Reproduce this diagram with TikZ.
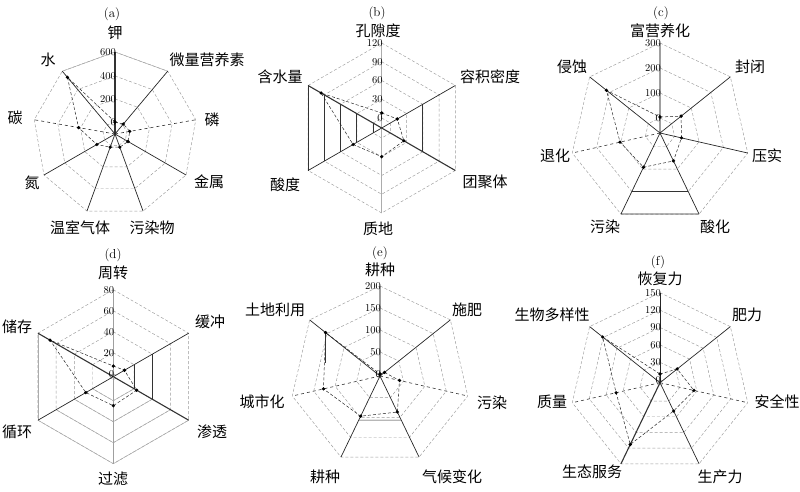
\documentclass[tikz,border=0pt]{standalone}
\usepackage{fontspec}
\newfontfamily\cjk{Noto Sans CJK SC}
\begin{document}
\begin{tikzpicture}[
        x=1pt, y=1pt,
        ringline/.style={gray!80, densely dashed, line width=0.45pt},
        softline/.style={gray!65, line width=0.5pt},
        axisline/.style={black!85, line width=0.7pt},
        boldaxis/.style={black!80, line width=1.1pt},
        grayaxis/.style={gray!75, line width=1.1pt},
        dashaxis/.style={black!80, dashed, line width=0.6pt},
        edgeline/.style={black!80, line width=0.7pt},
        dataline/.style={black!85, densely dashed, line width=0.5pt},
        axislabel/.style={font=\cjk\fontsize{15}{17}\selectfont, inner sep=0pt},
        ticklabel/.style={font=\fontsize{10.5}{12}\selectfont, anchor=east, inner sep=0.5pt, xshift=1.5pt},
        panellabel/.style={font=\fontsize{13}{15}\selectfont, inner sep=0pt}
    ]
    \useasboundingbox (0,0) rectangle (800,491);

    % (a) nine axes
    \begin{scope}[shift={(115,357)}]
      \foreach \r in {12,35,58,82}
        \draw[ringline] (90:\r) \foreach \i in {1,...,8}{ -- ({90-40*\i}:\r)} -- cycle;
      \draw[softline] (130:82) -- (90:82) -- (50:82);
      \foreach \i/\s in {0/boldaxis,1/axisline,2/dashaxis,3/axisline,4/axisline,
                         5/axisline,6/axisline,7/dashaxis,8/axisline}
        \draw[\s] (0,0) -- ({90-40*\i}:82);
      \draw[dataline] (90:12) \foreach \i/\r in {1/13,2/15,3/15,4/14,5/14,6/21,7/37,8/74}{ -- ({90-40*\i}:\r)} -- cycle;
      \foreach \i/\r in {0/12,1/13,2/15,3/15,4/14,5/14,6/21,7/37,8/74}
        \fill ({90-40*\i}:\r) circle (1.8);
      \foreach \v/\r in {0/12,200/35,400/58,600/82}
        \node[ticklabel] (ka\v) at (90:\r) {\v};
    \end{scope}
    \node[panellabel] (ta) at (112,477) {(a)};
    \node[axislabel] (a1) at (115,458) {钾};
    \node[axislabel] (a2) at (207,431) {微量营养素};
    \node[axislabel] (a3) at (212,371) {磷};
    \node[axislabel] (a4) at (209,309) {金属};
    \node[axislabel] (a5) at (152,263) {污染物};
    \node[axislabel] (a6) at (80,263) {温室气体};
    \node[axislabel] (a7) at (32,308) {氮};
    \node[axislabel] (a8) at (15,373) {碳};
    \node[axislabel] (a9) at (48,431) {水};

    % (b) six axes
    \begin{scope}[shift={(381.7,363)}]
      \foreach \r in {10,28.75,47.5,66.25,85}
        \draw[ringline] (90:\r) \foreach \i in {1,...,5}{ -- ({90-60*\i}:\r)} -- cycle;
      \foreach \r in {10,28.75,47.5,66.25,85}
        \draw[edgeline] (150:\r) -- (210:\r);
      \draw[edgeline] (30:47.5) -- (-30:47.5);
      \foreach \i/\s in {0/softline,1/axisline,2/boldaxis,3/softline,4/axisline,5/boldaxis}
        \draw[\s] (0,0) -- ({90-60*\i}:85);
      \draw[dataline] (90:15) \foreach \i/\r in {1/18,2/25.6,3/28.7,4/33,5/70}{ -- ({90-60*\i}:\r)} -- cycle;
      \foreach \i/\r in {0/15,1/18,2/25.6,3/28.7,4/33,5/70}
        \fill ({90-60*\i}:\r) circle (1.8);
      \foreach \v/\r in {0/10,30/28.75,60/47.5,90/66.25,120/85}
        \node[ticklabel] (kb\v) at (90:\r) {\v};
    \end{scope}
    \node[panellabel] (tb) at (377,478) {(b)};
    \node[axislabel] (b1) at (378,460) {孔隙度};
    \node[axislabel] (b2) at (490,414) {容积密度};
    \node[axislabel] (b3) at (485,309) {团聚体};
    \node[axislabel] (b4) at (378,262) {质地};
    \node[axislabel] (b5) at (285,306) {酸度};
    \node[axislabel] (b6) at (280,414) {含水量};

    % (c) seven axes
    \begin{scope}[shift={(660,358)}]
      \foreach \r in {15,40,65,90}
        \draw[ringline] (90:\r) \foreach \i in {1,...,6}{ -- ({90-360/7*\i}:\r)} -- cycle;
      \draw[edgeline] ({90-360/7*3}:90) -- ({90-360/7*4}:90);
      \draw[edgeline] ({90-360/7*3}:65) -- ({90-360/7*4}:65);
      \foreach \i/\s in {0/grayaxis,1/axisline,2/axisline,3/axisline,4/axisline,5/dashaxis,6/axisline}
        \draw[\s] (0,0) -- ({90-360/7*\i}:90);
      \draw[dataline] (90:16) \foreach \i/\r in {1/27,2/22,3/31,4/38,5/41,6/68.5}{ -- ({90-360/7*\i}:\r)} -- cycle;
      \foreach \i/\r in {0/16,1/27,2/22,3/31,4/38,5/41,6/68.5}
        \fill ({90-360/7*\i}:\r) circle (1.8);
      \foreach \v/\r in {0/15,100/40,200/65,300/90}
        \node[ticklabel] (kc\v) at (90:\r) {\v};
    \end{scope}
    \node[panellabel] (tc) at (661,478) {(c)};
    \node[axislabel] (c1) at (660,460) {富营养化};
    \node[axislabel] (c2) at (750,424) {封闭};
    \node[axislabel] (c3) at (767,335) {压实};
    \node[axislabel] (c4) at (715,264) {酸化};
    \node[axislabel] (c5) at (605,264) {污染};
    \node[axislabel] (c6) at (555,335) {退化};
    \node[axislabel] (c7) at (572,424) {侵蚀};

    % (d) six axes
    \begin{scope}[shift={(113.3,114.3)}]
      \foreach \r in {3,24,45,66,87}
        \draw[ringline] (90:\r) \foreach \i in {1,...,5}{ -- ({90-60*\i}:\r)} -- cycle;
      \foreach \r in {24,45,66,87}
        \draw[softline] (-30:\r) -- (-90:\r) -- (-150:\r);
      \draw[softline] (150:87) -- (210:87);
      \foreach \r in {24,45}
        \draw[edgeline] (30:\r) -- (-30:\r);
      \foreach \i/\s in {0/grayaxis,1/axisline,2/boldaxis,3/grayaxis,4/axisline,5/boldaxis}
        \draw[\s] (0,0) -- ({90-60*\i}:87);
      \draw[dataline] (90:10.7) \foreach \i/\r in {1/12.9,2/27,3/29,4/31.7,5/73}{ -- ({90-60*\i}:\r)} -- cycle;
      \foreach \i/\r in {0/10.7,1/12.9,2/27,3/29,4/31.7,5/73}
        \fill ({90-60*\i}:\r) circle (1.8);
      \foreach \v/\r in {0/3,20/24,40/45,60/66,80/87}
        \node[ticklabel] (kd\v) at (90:\r) {\v};
    \end{scope}
    \node[panellabel] (td) at (113,236) {(d)};
    \node[axislabel] (d1) at (113,218) {周转};
    \node[axislabel] (d2) at (210,169) {缓冲};
    \node[axislabel] (d3) at (212,59) {渗透};
    \node[axislabel] (d4) at (113,12) {过滤};
    \node[axislabel] (d5) at (17,59) {循环};
    \node[axislabel] (d6) at (17,164) {储存};

    % (e) seven axes
    \begin{scope}[shift={(380,115)}]
      \foreach \r in {2,24,46,68,90}
        \draw[ringline] (90:\r) \foreach \i in {1,...,6}{ -- ({90-360/7*\i}:\r)} -- cycle;
      \draw[edgeline] ({90-360/7*3}:49) -- ({90-360/7*4}:49);
      \foreach \i/\s in {0/grayaxis,1/axisline,2/dashaxis,3/axisline,4/axisline,5/dashaxis,6/axisline}
        \draw[\s] (0,0) -- ({90-360/7*\i}:90);
      \draw[dataline] (90:2) \foreach \i/\r in {1/5.7,2/20,3/40,4/44.6,5/58,6/69.6}{ -- ({90-360/7*\i}:\r)} -- cycle;
      \draw[edgeline] ({90+360/7}:69.6) -- ++(0,-30);
      \foreach \i/\r in {0/2,1/5.7,2/20,3/40,4/44.6,5/58,6/69.6}
        \fill ({90-360/7*\i}:\r) circle (1.8);
      \foreach \v/\r in {0/2,50/24,100/46,150/68,200/90}
        \node[ticklabel] (ke\v) at (90:\r) {\v};
    \end{scope}
    \node[panellabel] (te) at (380,238) {(e)};
    \node[axislabel] (e1) at (380,221) {耕种};
    \node[axislabel] (e2) at (467,181) {施肥};
    \node[axislabel] (e3) at (492,88) {污染};
    \node[axislabel] (e4) at (452,14) {气候变化};
    \node[axislabel] (e5) at (325,14) {耕种};
    \node[axislabel] (e6) at (262,89) {城市化};
    \node[axislabel] (e7) at (275,181) {土地利用};

    % (f) seven axes
    \begin{scope}[shift={(660,108.3)}]
      \foreach \r in {3,20.4,37.8,55.2,72.6,90}
        \draw[ringline] (90:\r) \foreach \i in {1,...,6}{ -- ({90-360/7*\i}:\r)} -- cycle;
      \foreach \i/\s in {0/axisline,1/axisline,2/dashaxis,3/axisline,4/boldaxis,5/dashaxis,6/axisline}
        \draw[\s] (0,0) -- ({90-360/7*\i}:90);
      \draw[dataline] (90:8.7) \foreach \i/\r in {1/22,2/34.8,3/31.4,4/68.6,5/45,6/73.4}{ -- ({90-360/7*\i}:\r)} -- cycle;
      \foreach \i/\r in {0/8.7,1/22,2/34.8,3/31.4,4/68.6,5/45,6/73.4}
        \fill ({90-360/7*\i}:\r) circle (1.8);
      \foreach \v/\r in {0/3,30/20.4,60/37.8,90/55.2,120/72.6,150/90}
        \node[ticklabel] (kf\v) at (90:\r) {\v};
    \end{scope}
    \node[panellabel] (tf) at (658,229) {(f)};
    \node[axislabel] (f1) at (660,212) {恢复力};
    \node[axislabel] (f2) at (747,176) {肥力};
    \node[axislabel] (f3) at (777,89) {安全性};
    \node[axislabel] (f4) at (720,14) {生产力};
    \node[axislabel] (f5) at (592,19) {生态服务};
    \node[axislabel] (f6) at (552,89) {质量};
    \node[axislabel] (f7) at (552,176) {生物多样性};
\end{tikzpicture}
\end{document}
